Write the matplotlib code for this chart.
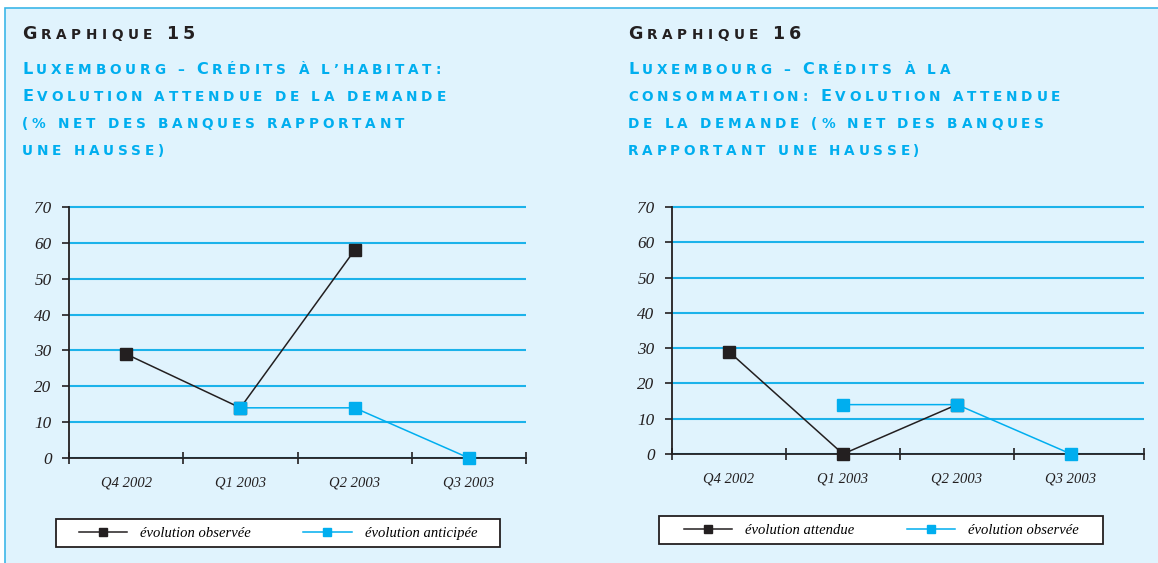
import numpy as np
import matplotlib
matplotlib.use("Agg")
import matplotlib.pyplot as plt
from matplotlib.offsetbox import TextArea, HPacker, AnchoredOffsetbox
from matplotlib.patches import Rectangle

# données
quarters = ["Q4 2002", "Q1 2003", "Q2 2003", "Q3 2003"]
yticks = [0, 10, 20, 30, 40, 50, 60, 70]

# Graphique 15 : crédits à l'habitat
hab_observee = [29, 14, 58, np.nan]
hab_anticipee = [np.nan, 14, 14, 0]
hab_labels = ["évolution observée", "évolution anticipée"]

# Graphique 16 : crédits à la consommation
cons_attendue = [29, 0, 14, np.nan]
cons_observee = [np.nan, 14, 14, 0]
cons_labels = ["évolution attendue", "évolution observée"]

titre15 = ["Luxembourg – Crédits à l’habitat:",
           "Evolution attendue de la demande",
           "(% net des banques rapportant",
           "une hausse)"]
titre16 = ["Luxembourg – Crédits à la",
           "consommation: Evolution attendue",
           "de la demande (% net des banques",
           "rapportant une hausse)"]

BG = "#e0f3fd"
BLUE = "#00aeef"
GRID = "#1cb2ea"
BLACK = "#231f20"
SERIF = "Liberation Serif"

W, H = 1158, 563
fig = plt.figure(figsize=(W / 100, H / 100), dpi=100, facecolor="white")
fig.add_artist(Rectangle((5 / W, -0.02), 1.1, 1 - 8 / H + 0.02, transform=fig.transFigure,
                         facecolor=BG, edgecolor="#3cb6e8", lw=1.2, zorder=-1))


def smallcaps(text, x, y, color, big, small, sep):
    # petites capitales : majuscules et chiffres en grand, le reste en petit
    kids = []
    for ch in text:
        size = big if (ch.isupper() or ch.isdigit()) else small
        kids.append(TextArea(ch.upper(), textprops=dict(color=color, size=size, weight="bold",
                                                        family="DejaVu Sans")))
    box = HPacker(children=kids, sep=sep, align="baseline", pad=0)
    anch = AnchoredOffsetbox(loc="lower left", child=box, pad=0, borderpad=0, frameon=False,
                             bbox_to_anchor=(x / W, 1 - y / H), bbox_transform=fig.transFigure)
    fig.add_artist(anch)


def panel(rect, s1, s2, labels, xmax, leg_box):
    ax = fig.add_axes(rect)
    ax.set_facecolor("none")
    x = np.arange(len(quarters))
    l1, = ax.plot(x, s1, color=BLACK, lw=1.1, marker="s", ms=9, zorder=3, clip_on=False)
    l2, = ax.plot(x, s2, color=BLUE, lw=1.1, marker="s", ms=9, zorder=4, clip_on=False)

    ax.set_ylim(0, 70.6)
    ax.set_xlim(-0.5, xmax)
    ax.set_yticks(yticks)
    ax.set_yticklabels([str(v) for v in yticks], family=SERIF, style="italic", size=12.3, color=BLACK)
    ax.grid(axis="y", color=GRID, lw=1.5, zorder=1)
    ax.set_axisbelow(True)

    ax.set_xticks(list(np.arange(-0.5, len(quarters) - 1, 1.0)) + [xmax])
    ax.set_xticklabels([])
    ax.set_xticks(x, minor=True)
    ax.set_xticklabels(quarters, minor=True, family=SERIF, style="italic", size=10.5, color=BLACK)
    ax.tick_params(axis="x", which="major", direction="inout", length=8, width=1.2, color=BLACK)
    ax.tick_params(axis="x", which="minor", length=0, pad=13)
    ax.tick_params(axis="y", direction="out", length=5, width=1.2, color=BLACK, pad=7.5)

    for s in ["top", "right"]:
        ax.spines[s].set_visible(False)
    for s in ["left", "bottom"]:
        ax.spines[s].set_color(BLACK)
        ax.spines[s].set_linewidth(1.3)
    ax.spines["left"].set_bounds(0, 70)

    # cadre blanc de la légende
    x0, y0, x1, y1 = leg_box
    fig.add_artist(Rectangle((x0 / W, 1 - y1 / H), (x1 - x0) / W, (y1 - y0) / H,
                             transform=fig.transFigure, facecolor="white",
                             edgecolor=BLACK, lw=1.3, zorder=5))
    leg = fig.legend([l1, l2], labels, loc="center",
                     bbox_to_anchor=((x0 + x1) / 2 / W, 1 - (y0 + y1) / 2 / H),
                     ncol=2, frameon=False,
                     handlelength=3.3, handletextpad=0.9, columnspacing=3.6,
                     borderpad=0.3, markerscale=0.7,
                     prop=dict(family=SERIF, style="italic", size=10.5))
    leg.set_zorder(6)
    return ax


panel([69 / W, 105 / H, 457 / W, 253 / H], hab_observee, hab_anticipee, hab_labels, 3.5,
      (56, 519, 500, 547))
panel([672 / W, 109 / H, 472 / W, 249 / H], cons_attendue, cons_observee, cons_labels, 3.64,
      (659, 516, 1103, 544))

smallcaps("Graphique 15", 22, 43, BLACK, 12.6, 9.8, 3.3)
smallcaps("Graphique 16", 628, 43, BLACK, 12.6, 9.8, 3.3)
for i, line in enumerate(titre15):
    smallcaps(line, 22, 77 + 27 * i, BLUE, 11.6, 9.8, 2.7)
for i, line in enumerate(titre16):
    smallcaps(line, 628, 77 + 27 * i, BLUE, 11.6, 9.8, 2.7)

fig.savefig("out.png", dpi=100, facecolor=fig.get_facecolor())
